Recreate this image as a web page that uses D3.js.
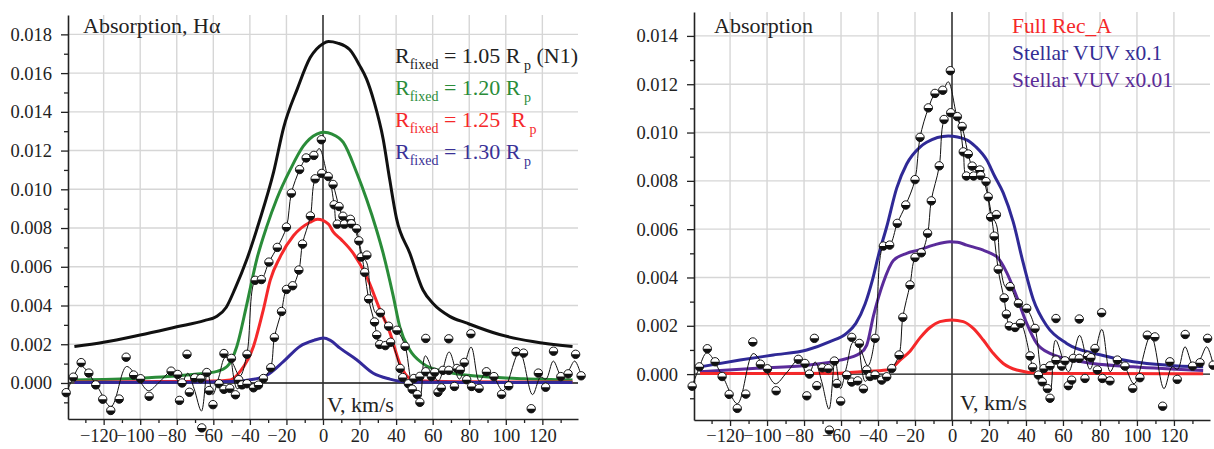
<!DOCTYPE html>
<html>
<head>
<meta charset="utf-8">
<script src="https://cdn.jsdelivr.net/npm/d3@7"></script>
<style>
  body { margin: 0; background: #fff; }
  svg { display: block; font-family: "Liberation Serif", "Times New Roman", serif; }
</style>
</head>
<body>
<svg id="chart" width="1214" height="449"></svg>
<script>
// ---- Beobachtete Punkte (V in km/s, Absorption) ----
const obsPoints = [
  [-140.5,-0.0005],[-136.6,0.0003],[-132.3,0.00105],[-128.1,0.00051],[-124.3,-0.0001],[-120.5,-0.00084],
  [-116.1,-0.00142],[-111.5,-0.00083],[-107.7,0.00133],[-103.6,0.00041],[-99.8,0.00022],[-95.1,-0.00069],
  [-83.1,0.00061],[-79.5,0.00044],[-78.5,-0.0009],[-77.1,0.0],[-74.4,0.00148],[-73.1,-0.00048],
  [-70.1,0.00026],[-66.9,0.00023],[-66.3,-0.00232],[-63.6,0.00054],[-62.3,-0.00039],[-60.2,-0.00112],
  [-56.9,-0.00004],[-54.2,0.00152],[-54.2,-0.00033],[-51,-0.00028],[-50.1,0.00127],[-47.9,-0.00061],
  [-46.1,0.00017],[-44.3,-0.0001],[-41.6,-0.00004],[-41.6,0.00148],[-38,-0.00025],[-35.3,-0.00011],[-32.6,0.00023],
  [-37.1,0.0053],[-33.7,0.00534],[-29.6,0.00624],[-25,0.007],[-20,0.00805],[-17.3,0.0098],[-12.8,0.01102],
  [-9.2,0.01162],[-5,0.01175],[-0.9,0.01256],
  [-28.6,0.00079],[-26.6,0.00235],[-22.7,0.00369],[-20,0.00483],[-16.6,0.00502],[-13.2,0.00583],
  [-11.2,0.00717],[-6.9,0.00862],[-4.3,0.01054],[-0.7,0.01082],
  [2.9,0.01066],[5.5,0.01025],[6.1,0.0092],[8.8,0.00911],[10.9,0.00861],[7.8,0.0082],[11.7,0.0082],
  [15,0.00845],[15.5,0.00822],[18.4,0.00797],[19.6,0.00734],[20.9,0.0065],[24,0.0066],[22.8,0.00571],
  [25,0.00434],[28.2,0.00315],[29.4,0.00248],[31.4,0.00362],[31,0.00199],[34.1,0.00193],[37,0.0021],
  [35.9,0.00293],[40.4,0.00272],[44.9,0.00189],[42.2,0.00075],[43.6,0.00028],[46.7,-0.00004],
  [48.8,-0.00032],[49.7,0.00023],
  [51.6,-0.0006],[53,-0.001],[53,0.00034],[56.2,0.0023],[56.2,0.00058],[59.3,0.00033],[61.1,0.00055],
  [62.9,-0.00048],[64.7,-0.00025],[65.6,0.00065],[68.8,0.00065],[68.8,0.00228],[71.9,-0.00018],
  [73.3,0.00075],[75.1,0.00068],[77.3,0.00106],[78.6,0.00017],[80.9,0.00254],[81.3,-0.00018],
  [85.4,-0.00028],[89.4,0.00058],[93.5,0.00033],[97.7,-0.00059],[101.6,-0.00015],[105.6,0.00161],
  [109.7,0.00154],[113.9,-0.00133],[117.8,0.00051],[121.8,-0.00022],[126.1,0.00164],[130.1,0.00033],
  [134.1,0.00047],[138.2,0.00148],[141.2,0.00037]
];

// dünne Linien durch die Messpunkte
const traceWide = [
  [-140.5,-0.0005],[-137,0.0002],[-132.5,0.00088],[-124,-0.0001],[-116,-0.00122],[-107.5,0.00085],
  [-101,0.0002],[-95.5,-0.0004],[-89.5,0.00005],[-82.5,0.00062],[-78,-0.0001],[-74,0.0005],[-70.5,-0.0003],
  [-66.5,-0.00145],[-63.2,0.0006],[-60.3,-0.0006],[-57,0.0003],[-53.5,0.00132],[-50,0.0011],[-45.5,0.00035],
  [-41.6,0.0015],[-37.1,0.0053],[-33.7,0.00534],[-29.6,0.00624],[-25,0.007],[-20,0.00805],[-17.3,0.0098],
  [-12.8,0.011],[-9.2,0.0116],[-5,0.01175],[-2,0.0121],[2.9,0.0106],[5.5,0.0102],[8.8,0.0091],[11,0.0086],
  [15,0.0084],[18.4,0.0079],[21,0.0066],[24,0.0062],[26,0.0046],[29,0.0036],[31.4,0.0036],[35.9,0.0029],
  [40.4,0.0027],[44.9,0.0019],[48,0.0002],[50.5,-0.0004],[53,-0.0007],[56,0.0014],[63,0.0001],[69,0.0016],
  [74.6,0.0002],[81,0.00185],[85.5,0.0001],[89.5,0.0006],[93.5,0.0003],[98.5,-0.0004],[107.5,0.0016],
  [114.6,-0.0006],[119,0.0003],[122,0.0002],[126,0.00113],[130.4,0.00037],[134,0.0006],[137.7,0.00113],[141.2,0.0004]
];
const traceNarrow = [
  [-50,0.0011],[-47,-0.0003],[-44.3,-0.0001],[-41.3,0],[-38,-0.0002],[-35.3,-0.0001],[-32.6,0.0002],
  [-28.6,0.0008],[-26.6,0.00235],[-22.7,0.0037],[-20,0.0048],[-16.6,0.005],[-13.2,0.0058],[-11.2,0.0072],
  [-6.9,0.0086],[-4.3,0.0105],[-0.7,0.0108],[2.9,0.0106],[6.1,0.0092],[7.8,0.0082],[11.7,0.0082],
  [15.5,0.0082],[19.6,0.0073],[22.8,0.0057],[25,0.0043],[28.2,0.0031],[29.4,0.0025],[31,0.002],
  [34.1,0.0019],[37,0.0021],[42.2,0.00075],[43.6,0.0003],[46.7,0],[48.8,-0.0003],[50.5,-0.0004]
];

// ---- Modellkurven linkes Bild ----
const n1Curve = [
  [-136,0.00188],[-120,0.0021],[-100,0.00248],[-80,0.0029],[-65,0.00322],[-58,0.00345],[-53,0.0039],
  [-48,0.0049],[-41.6,0.0064],[-35,0.0083],[-27,0.0109],[-21.5,0.0132],[-14,0.0152],[-7,0.0168],
  [0,0.01752],[3,0.01763],[8,0.01755],[14.7,0.0172],[20,0.0164],[23.8,0.0157],[28,0.0145],[32.9,0.0126],
  [36.5,0.0105],[40.2,0.0085],[47.5,0.0067],[54.7,0.0048],[60.2,0.0041],[69.3,0.00344],[78.4,0.0031],
  [96.6,0.0025],[114.7,0.00214],[136.5,0.00188]
];
const r120Curve = [
  [-136,0.00016],[-100,0.00025],[-85,0.00033],[-70,0.00045],[-58,0.0006],[-52.5,0.00085],[-47.1,0.0019],
  [-41.6,0.0041],[-36.2,0.0064],[-30.7,0.0081],[-25.3,0.0095],[-18,0.011],[-10.7,0.01224],[-3.4,0.01285],
  [0.5,0.01294],[5,0.01285],[11.1,0.01242],[18.4,0.01087],[23.8,0.0095],[29.3,0.0079],[32.9,0.0067],
  [38.4,0.0045],[42,0.0029],[47.5,0.0017],[54.7,0.001],[65.6,0.0006],[87.5,0.00033],[110,0.00022],[136.5,0.00016]
];
const r125Curve = [
  [-136,0.00005],[-90,0.00007],[-60,0.0001],[-50.7,0.00016],[-45.3,0.0006],[-38,0.0019],[-32.6,0.0038],
  [-28.9,0.0053],[-23.5,0.0065],[-16.2,0.0076],[-7.1,0.0083],[-3,0.00845],[3,0.0082],[5.6,0.0078],
  [10,0.0074],[16.5,0.0067],[23.8,0.0055],[31.1,0.0038],[36.6,0.0026],[42,0.001],[47.5,0.00024],
  [55,0.0001],[80,0.00006],[136.5,0.00005]
];
const r130Curve = [
  [-136,0.00003],[-80,0.00004],[-50,0.00008],[-38,0.00019],[-30.7,0.0004],[-21.7,0.0011],[-12.5,0.0019],
  [-5,0.0022],[0.2,0.00232],[4,0.0022],[9.3,0.0018],[18.4,0.0012],[27.5,0.0005],[36.6,0.0002],
  [45.7,0.00005],[80,0.00003],[136.5,0.00002]
];

// ---- Modellkurven rechtes Bild ----
const vuv01Curve = [
  [-136.2,0.0003],[-114.6,0.00058],[-96.6,0.00079],[-78.5,0.001],[-66,0.00134],[-56.9,0.0017],[-52,0.0021],
  [-47,0.0029],[-43,0.0039],[-39.8,0.0049],[-35.3,0.0061],[-29.9,0.0077],[-24.5,0.0087],[-17.3,0.0094],
  [-13.7,0.0096],[-2,0.00986],[7.9,0.0097],[13,0.0094],[18.8,0.00886],[23,0.0082],[27.7,0.0075],
  [33.1,0.0063],[38.5,0.0046],[43.9,0.0031],[51.2,0.002],[62,0.00127],[80,0.0008],[98,0.00051],
  [116,0.00037],[135.8,0.0003]
];
const vuv001Curve = [
  [-136.2,0.0001],[-105.6,0.00024],[-78.5,0.00037],[-60.5,0.00058],[-49.7,0.00086],[-46.1,0.0012],
  [-42.5,0.0024],[-37.1,0.0038],[-31.7,0.0047],[-24.5,0.005],[-18.2,0.00513],[-10.1,0.00534],
  [-1.1,0.00548],[3,0.00546],[7.9,0.00534],[16.9,0.00513],[21,0.005],[24.2,0.00486],[29.6,0.0042],
  [35,0.0032],[40.4,0.0021],[45.8,0.00127],[53,0.00086],[71,0.0005],[98,0.0003],[135.8,0.00015]
];
const recCurve = [
  [-136.2,0.00002],[-60,0.00004],[-49.7,0.0001],[-35.3,0.00017],[-31.7,0.0003],[-28.1,0.00058],
  [-22.7,0.00095],[-17.3,0.0015],[-11.9,0.00193],[-6.5,0.00217],[-0.2,0.00224],[6.1,0.00217],
  [11.5,0.00189],[16.9,0.00141],[22.3,0.00086],[27.7,0.00044],[35,0.00017],[45.8,0.00005],
  [80,0.00002],[135.8,0.00001]
];

// Achsenbeschriftungen
const xTicks = [-120,-100,-80,-60,-40,-20,0,20,40,60,80,100,120];
const xMinorTicks = [-130,-110,-90,-70,-50,-30,-10,10,30,50,70,90,110,130];
const yTicksLeft = [0,0.002,0.004,0.006,0.008,0.010,0.012,0.014,0.016,0.018];
const yTicksRight = [0,0.002,0.004,0.006,0.008,0.010,0.012,0.014];
const leftLegend = ['1.05', '1.20', '1.25 ', '1.30'];
const leftLegendExtra = [' (N1)', '', '', ''];
const rightLegend = ['Full Rec_A', 'Stellar VUV x0.1', 'Stellar VUV x0.01'];

const svg = d3.select('#chart');

// Funktion zum Zeichnen eines Panels
function drawPanel(p) {
  const x = d3.scaleLinear().domain([-139.5, 139.5]).range(p.xRange);
  const y = d3.scaleLinear().domain(p.yDomain).range(p.yRange);
  const [x0, x1] = p.xRange;
  const [yb, yt] = p.yRange;
  const g = svg.append('g');

  // Gitter
  g.append('g').selectAll('line')
    .data(xTicks.filter(d => d !== 0)).join('line')
    .attr('x1', d => x(d)).attr('x2', d => x(d))
    .attr('y1', yt).attr('y2', yb)
    .attr('stroke', '#d6d6d6').attr('stroke-width', 1.4);
  g.append('g').selectAll('line')
    .data(p.yTicks.filter(d => d !== 0)).join('line')
    .attr('x1', x0).attr('x2', x1)
    .attr('y1', d => y(d)).attr('y2', d => y(d))
    .attr('stroke', '#d6d6d6').attr('stroke-width', 1.4);

  // Nulllinien
  g.append('line')
    .attr('x1', x0).attr('x2', x1).attr('y1', y(0)).attr('y2', y(0))
    .attr('stroke', '#111').attr('stroke-width', 1.3);
  g.append('line')
    .attr('x1', x(0)).attr('x2', x(0)).attr('y1', yt).attr('y2', yb)
    .attr('stroke', '#333').attr('stroke-width', 1.6);

  // Y-Achse
  const yMinor = d3.range(-0.001, p.yDomain[1], 0.002);
  g.append('g').attr('transform', `translate(${x0},0)`)
    .call(d3.axisLeft(y).tickValues(yMinor).tickFormat('').tickSize(4).tickSizeOuter(0))
    .call(a => a.select('.domain').remove())
    .call(a => a.selectAll('line').attr('stroke', '#222').attr('stroke-width', 1.3));
  g.append('g').attr('transform', `translate(${x0},0)`)
    .call(d3.axisLeft(y).tickValues(p.yTicks).tickFormat(d3.format('.3f')).tickSize(7).tickSizeOuter(0).tickPadding(9))
    .call(a => a.attr('font-family', null).attr('font-size', 18.5))
    .call(a => a.select('.domain').attr('stroke', '#222').attr('stroke-width', 1.6))
    .call(a => a.selectAll('line').attr('stroke', '#222').attr('stroke-width', 1.3))
    .call(a => a.selectAll('text').attr('fill', '#222'));

  // X-Achse
  g.append('g').attr('transform', `translate(0,${yb})`)
    .call(d3.axisBottom(x).tickValues(xMinorTicks).tickFormat('').tickSize(4).tickSizeOuter(0))
    .call(a => a.select('.domain').remove())
    .call(a => a.selectAll('line').attr('stroke', '#222').attr('stroke-width', 1.3));
  g.append('g').attr('transform', `translate(0,${yb})`)
    .call(d3.axisBottom(x).tickValues(xTicks).tickSize(6).tickSizeOuter(0).tickPadding(p.xPad))
    .call(a => a.attr('font-family', null).attr('font-size', 18.5))
    .call(a => a.select('.domain').attr('stroke', '#222').attr('stroke-width', 1.6))
    .call(a => a.selectAll('line').attr('stroke', '#222').attr('stroke-width', 1.3))
    .call(a => a.selectAll('text').attr('fill', '#222').attr('dx', d => d < 0 ? '-0.28em' : null));

  // Modellkurven
  const line = d3.line().x(d => x(d[0])).y(d => y(d[1])).curve(d3.curveMonotoneX);
  p.models.forEach(m => {
    g.append('path').datum(m.data)
      .attr('d', line).attr('fill', 'none')
      .attr('stroke', m.color).attr('stroke-width', 3)
      .attr('stroke-linejoin', 'round');
  });

  // dünne Linien durch die Messungen
  const thin = d3.line().x(d => x(d[0])).y(d => y(d[1])).curve(d3.curveCatmullRom.alpha(0.5));
  [traceWide, traceNarrow].forEach(t => {
    g.append('path').datum(t)
      .attr('d', thin).attr('fill', 'none')
      .attr('stroke', '#111').attr('stroke-width', 1);
  });

  // halbgefüllte Kreise
  const r = 4.2;
  const pts = g.append('g').selectAll('g')
    .data(obsPoints).join('g')
    .attr('transform', d => `translate(${x(d[0])},${y(d[1])})`);
  pts.append('circle').attr('r', r).attr('fill', '#fff').attr('stroke', '#000').attr('stroke-width', 0.9);
  pts.append('path').attr('d', `M${-r},0 A${r},${r} 0 0 0 ${r},0 Z`).attr('fill', '#111');

  // Titel und Achsentitel
  g.append('text').attr('x', p.title[1]).attr('y', 33)
    .attr('font-size', 22).attr('fill', '#222').text(p.title[0]);
  g.append('text').attr('x', p.vLabel[0]).attr('y', p.vLabel[1])
    .attr('font-size', 22).attr('fill', '#222').text('V, km/s');

  return g;
}

const left = drawPanel({
  xRange: [68, 578], yRange: [419, 15], yDomain: [-0.00186, 0.0190], yTicks: yTicksLeft, xPad: 4,
  title: ['Absorption, H\u03b1', 83], vLabel: [327, 412],
  models: [
    { data: n1Curve, color: '#111111' },
    { data: r120Curve, color: '#2a8c39' },
    { data: r125Curve, color: '#f5282a' },
    { data: r130Curve, color: '#33299a' }
  ]
});

const right = drawPanel({
  xRange: [694, 1210], yRange: [420, 12], yDomain: [-0.0019, 0.01499], yTicks: yTicksRight, xPad: 3,
  title: ['Absorption', 714], vLabel: [960, 410],
  models: [
    { data: vuv01Curve, color: '#2f2996' },
    { data: vuv001Curve, color: '#5a2b9a' },
    { data: recCurve, color: '#f5282a' }
  ]
});

// Legende links (R_fixed = ... R_p)
const leftColors = ['#222222', '#2a8c39', '#f5282a', '#3a3196'];
leftLegend.forEach((v, i) => {
  const t = left.append('text').attr('x', 395).attr('y', 63 + i * 32)
    .attr('font-size', 22).attr('fill', leftColors[i]).style('white-space', 'pre');
  t.append('tspan').text('R');
  t.append('tspan').attr('font-size', 14).attr('dy', 6).text('fixed');
  t.append('tspan').attr('dy', -6).text(' = ' + v + ' R');
  t.append('tspan').attr('font-size', 14).attr('dy', 7).text(' p');
  if (leftLegendExtra[i]) t.append('tspan').attr('dy', -7).text(leftLegendExtra[i]);
});

// Legende rechts
const rightColors = ['#f5282a', '#342d94', '#5a2b96'];
rightLegend.forEach((s, i) => {
  right.append('text').attr('x', 1012).attr('y', 33 + i * 27)
    .attr('font-size', 21.5).attr('fill', rightColors[i]).text(s);
});
</script>
</body>
</html>
